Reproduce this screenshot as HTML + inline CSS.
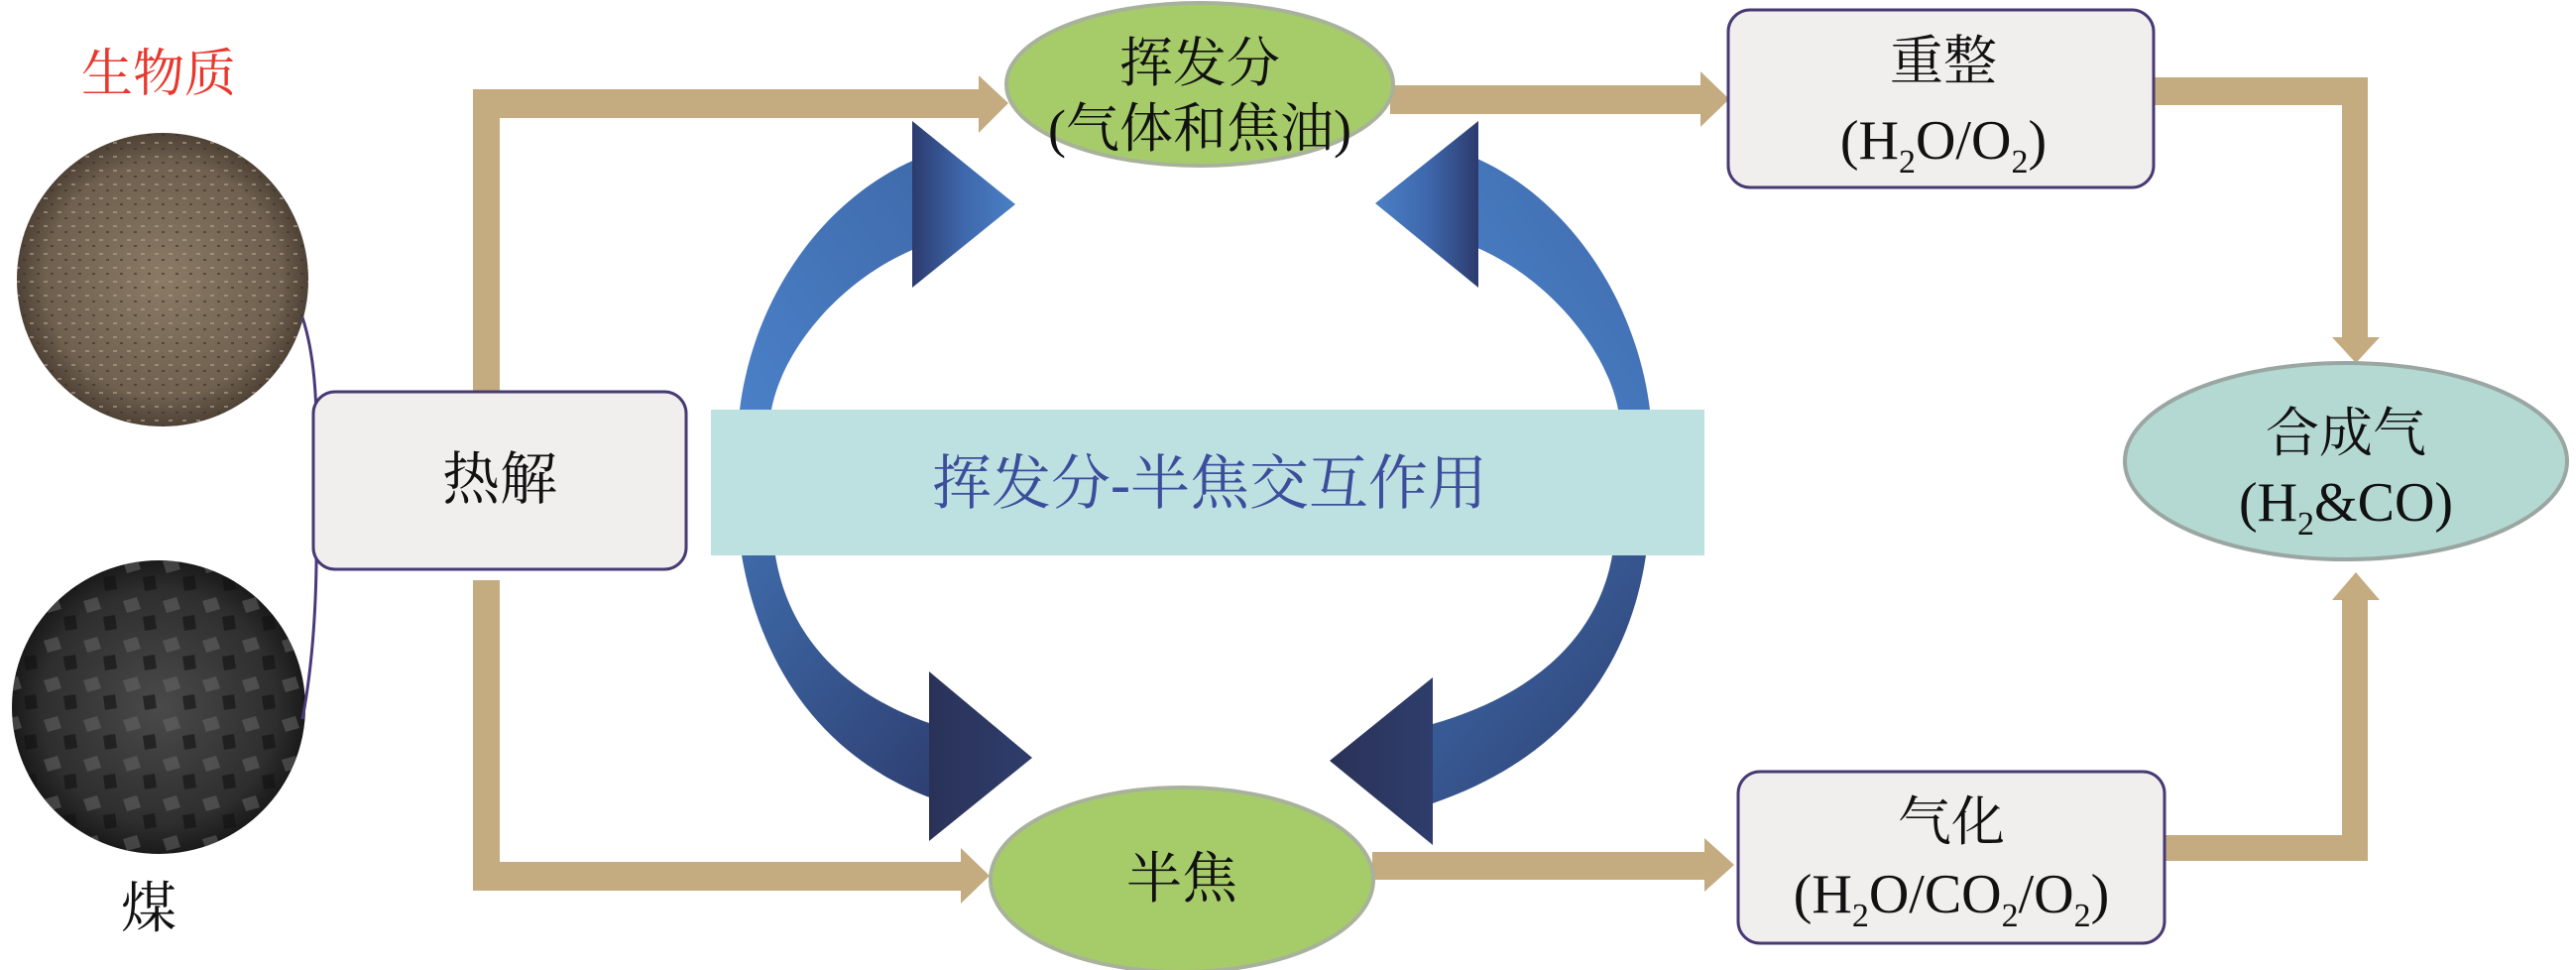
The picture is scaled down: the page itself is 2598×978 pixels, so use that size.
<!DOCTYPE html>
<html><head><meta charset="utf-8"><style>
html,body{margin:0;padding:0;background:#fff;}
svg{display:block;}
text{font-family:"Liberation Serif","Noto Serif CJK SC",serif;}
</style></head><body>
<svg width="2598" height="978" viewBox="0 0 2598 978" xmlns="http://www.w3.org/2000/svg">
<defs>
<radialGradient id="bio" cx="50%" cy="50%" r="50%">
<stop offset="0" stop-color="#8a7a66"/><stop offset="0.8" stop-color="#6f604f"/><stop offset="1" stop-color="#4e4236"/></radialGradient>
<radialGradient id="coal" cx="50%" cy="50%" r="50%">
<stop offset="0" stop-color="#4a4a4a"/><stop offset="0.8" stop-color="#2e2e2e"/><stop offset="1" stop-color="#1a1a1a"/></radialGradient>
<pattern id="grain" width="14" height="14" patternUnits="userSpaceOnUse">
<rect x="2" y="3" width="4" height="2" fill="#b5a48c" opacity="0.6"/><rect x="9" y="9" width="3" height="2" fill="#3a3026" opacity="0.6"/></pattern>
<pattern id="chunk" width="40" height="40" patternUnits="userSpaceOnUse">
<polygon points="4,6 18,2 22,14 8,18" fill="#6a6a6a" opacity="0.5"/><polygon points="24,22 36,20 38,34 26,36" fill="#111" opacity="0.6"/></pattern>
<linearGradient id="bu1" x1="0" y1="1" x2="1" y2="0"><stop offset="0" stop-color="#4a80c8"/><stop offset="1" stop-color="#3f6bab"/></linearGradient>
<linearGradient id="hd1" x1="0" y1="0" x2="1" y2="0"><stop offset="0" stop-color="#2c3b6e"/><stop offset="0.5" stop-color="#3f68ad"/><stop offset="1" stop-color="#4a7fc4"/></linearGradient>
<linearGradient id="hd1r" x1="1" y1="0" x2="0" y2="0"><stop offset="0" stop-color="#2c3b6e"/><stop offset="0.5" stop-color="#3f68ad"/><stop offset="1" stop-color="#4a7fc4"/></linearGradient>
<linearGradient id="bu2" x1="0" y1="0" x2="1" y2="1"><stop offset="0" stop-color="#3e6aa8"/><stop offset="1" stop-color="#2e3f72"/></linearGradient>
<linearGradient id="hd2" x1="0" y1="0" x2="1" y2="0"><stop offset="0" stop-color="#2a3258"/><stop offset="1" stop-color="#2f3d6c"/></linearGradient>
</defs>

<!-- material circles -->
<ellipse cx="164" cy="282" rx="147" ry="148" fill="url(#bio)"/>
<ellipse cx="164" cy="282" rx="147" ry="148" fill="url(#grain)"/>
<ellipse cx="160" cy="713" rx="148" ry="148" fill="url(#coal)"/>
<ellipse cx="160" cy="713" rx="148" ry="148" fill="url(#chunk)"/>
<path d="M305 320 C325 380, 318 470, 318 484 C318 500, 325 620, 305 725" fill="none" stroke="#4a3a7a" stroke-width="3"/>
<text x="160" y="92" font-size="52" fill="#e8382d" text-anchor="middle">生物质</text>
<text x="150" y="935" font-size="56" fill="#111" text-anchor="middle">煤</text>

<!-- tan connectors -->
<g fill="#c4ab80">
<rect x="477" y="90" width="27" height="304"/>
<rect x="477" y="90" width="512" height="29"/>
<polygon points="987,76 1017,104 987,134"/>
<rect x="477" y="585" width="27" height="313"/>
<rect x="477" y="869" width="495" height="29"/>
<polygon points="969,855 998,883 969,911"/>
<rect x="1402" y="86" width="316" height="29"/>
<polygon points="1715,72 1744,100 1715,128"/>
<rect x="1384" y="859" width="338" height="28"/>
<polygon points="1719,845 1749,872 1719,899"/>
<rect x="2170" y="78" width="218" height="28"/>
<rect x="2362" y="78" width="26" height="265"/>
<polygon points="2352,340 2400,340 2376,366"/>
<rect x="2182" y="842" width="206" height="26"/>
<rect x="2362" y="603" width="26" height="265"/>
<polygon points="2352,605 2400,605 2376,577"/>
</g>

<!-- pyrolysis box -->
<rect x="316" y="395" width="376" height="179" rx="22" fill="#f1eeee" stroke="#473a73" stroke-width="3"/>
<text x="504" y="503" font-size="58" fill="#111" text-anchor="middle">热解</text>

<!-- blue arrows -->
<path d="M746 413 C760 300, 830 200, 925 160 L925 250 C850 280, 790 350, 778 413 Z" fill="url(#bu1)"/>
<polygon points="920,122 1024,206 920,290" fill="url(#hd1)"/>
<path d="M1664 413 C1650 300, 1580 200, 1490 160 L1490 250 C1560 280, 1620 350, 1632 413 Z" fill="url(#bu1)"/>
<polygon points="1491,122 1387,205 1491,290" fill="url(#hd1r)"/>
<path d="M748 560 C765 660, 820 760, 940 805 L940 730 C850 700, 795 640, 782 560 Z" fill="url(#bu2)"/>
<polygon points="937,677 1041,764 937,848" fill="url(#hd2)"/>
<path d="M1660 560 C1645 660, 1590 760, 1445 810 L1445 730 C1550 700, 1612 640, 1626 560 Z" fill="url(#bu2)"/>
<polygon points="1445,683 1341,767 1445,852" fill="url(#hd2)"/>

<!-- band -->
<rect x="717" y="413" width="1002" height="147" fill="#bde0e0"/>
<text x="1220" y="508" font-size="60" fill="#3b4e9c" text-anchor="middle">挥发分-半焦交互作用</text>

<!-- green ellipses -->
<ellipse cx="1210" cy="85" rx="195" ry="82" fill="#a6cc6a" stroke="#a8b29a" stroke-width="4"/>
<text x="1210" y="82" font-size="54" fill="#111" text-anchor="middle">挥发分</text>
<text x="1210" y="148" font-size="54" fill="#111" text-anchor="middle">(气体和焦油)</text>
<ellipse cx="1192" cy="887" rx="193" ry="93" fill="#a6cc6a" stroke="#a8b29a" stroke-width="4"/>
<text x="1192" y="905" font-size="56" fill="#111" text-anchor="middle">半焦</text>

<!-- right boxes -->
<rect x="1743" y="10" width="429" height="179" rx="22" fill="#f1eeee" stroke="#473a73" stroke-width="3"/>
<text x="1960" y="80" font-size="54" fill="#111" text-anchor="middle">重整</text>
<text x="1960" y="160" font-size="56" fill="#111" text-anchor="middle">(H<tspan font-size="34" dy="14">2</tspan><tspan dy="-14">O/O</tspan><tspan font-size="34" dy="14">2</tspan><tspan dy="-14">)</tspan></text>

<rect x="1753" y="778" width="430" height="173" rx="22" fill="#f1eeee" stroke="#473a73" stroke-width="3"/>
<text x="1968" y="847" font-size="54" fill="#111" text-anchor="middle">气化</text>
<text x="1968" y="920" font-size="56" fill="#111" text-anchor="middle">(H<tspan font-size="34" dy="14">2</tspan><tspan dy="-14">O/CO</tspan><tspan font-size="34" dy="14">2</tspan><tspan dy="-14">/O</tspan><tspan font-size="34" dy="14">2</tspan><tspan dy="-14">)</tspan></text>

<ellipse cx="2366" cy="465" rx="223" ry="99" fill="#b4d8d2" stroke="#9aa6a2" stroke-width="4"/>
<text x="2366" y="455" font-size="54" fill="#111" text-anchor="middle">合成气</text>
<text x="2366" y="525" font-size="56" fill="#111" text-anchor="middle">(H<tspan font-size="34" dy="14">2</tspan><tspan dy="-14">&amp;CO)</tspan></text>
</svg>
</body></html>
